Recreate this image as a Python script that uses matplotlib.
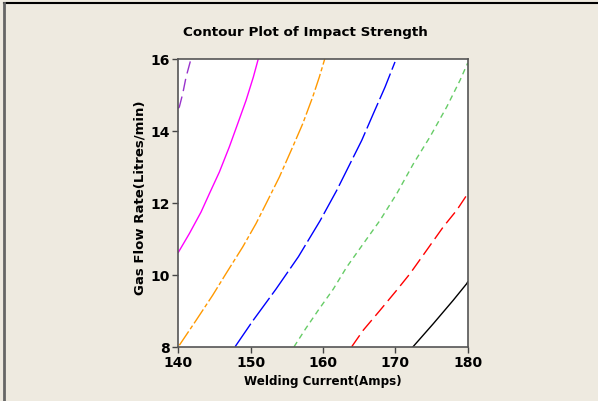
import matplotlib.pyplot as plt
from matplotlib.lines import Line2D

# contour lines: (welding current, gas flow rate)
purple_x = [140.0, 140.14, 140.61, 141.07, 141.76]
purple_y = [14.62, 14.66, 15.03, 15.49, 16.0]

magenta_x = [140.0, 141.52, 143.14, 144.29, 145.67, 147.05, 148.2, 149.36, 150.37, 151.06]
magenta_y = [10.62, 11.14, 11.74, 12.25, 12.85, 13.55, 14.19, 14.84, 15.49, 16.0]

orange_x = [140.14, 142.45, 144.75, 146.59, 148.9, 150.74, 152.12, 153.96,
            155.81, 157.19, 158.58, 159.49, 160.25]
orange_y = [8.04, 8.73, 9.43, 10.03, 10.77, 11.42, 11.97, 12.71,
            13.55, 14.19, 14.94, 15.49, 16.0]

blue_x = [147.85, 150.3, 153.5, 156.6, 159.6, 161.89, 163.73,
          165.35, 166.95, 168.57, 169.95]
blue_y = [8.0, 8.72, 9.6, 10.5, 11.5, 12.34, 13.08,
          13.73, 14.47, 15.21, 15.91]

green_x = [156.0, 157.6, 159.3, 161.42, 163.27, 165.57, 167.88, 170.19,
           172.49, 174.79, 177.1, 178.94, 180.0]
green_y = [8.0, 8.5, 9.0, 9.6, 10.21, 10.86, 11.51, 12.25,
           13.08, 13.83, 14.66, 15.4, 15.88]

red_x = [163.97, 165.57, 167.88, 170.19, 172.03, 174.33, 176.63, 178.48, 180.0]
red_y = [8.0, 8.46, 9.01, 9.57, 10.03, 10.68, 11.33, 11.79, 12.25]

black_x = [172.45, 175.25, 178.0, 179.86, 180.0]
black_y = [8.0, 8.64, 9.29, 9.75, 9.8]

x_ticks = [140, 150, 160, 170, 180]
y_ticks = [8, 10, 12, 14, 16]

bg = "#EEEAE0"
fig = plt.figure(figsize=(5.98, 4.02), dpi=100, facecolor=bg)
ax = fig.add_axes([0.2982, 0.1351, 0.4839, 0.7164])
ax.set_facecolor("white")

ax.plot(purple_x, purple_y, color="#9933CC", lw=1, ls=(0, (9, 4)))
ax.plot(magenta_x, magenta_y, color="#FF00FF", lw=1, ls="-")
ax.plot(orange_x, orange_y, color="#FF9900", lw=1, ls=(0, (12, 2, 3, 2)))
ax.plot(blue_x, blue_y, color="#0000FF", lw=1, ls=(0, (20, 3)))
ax.plot(green_x, green_y, color="#66CC66", lw=1, ls=(0, (4, 3)))
ax.plot(red_x, red_y, color="#FF0000", lw=1, ls=(0, (10, 4)))
ax.plot(black_x, black_y, color="black", lw=1, ls="-")

ax.set_xlim(140, 180)
ax.set_ylim(8, 16)
ax.set_xticks(x_ticks)
ax.set_yticks(y_ticks)
ax.tick_params(direction="out", length=4, width=1, color="#444444", labelsize=10, pad=2)
for lab in ax.get_xticklabels() + ax.get_yticklabels():
    lab.set_fontweight("bold")
for sp in ax.spines.values():
    sp.set_color("#555555")
    sp.set_linewidth(1.2)

fig.text(0.51, 0.92, "Contour Plot of Impact Strength", ha="center", va="center",
         fontsize=9.7, fontweight="bold")
fig.text(0.539, 0.052, "Welding Current(Amps)", ha="center", va="center",
         fontsize=8.6, fontweight="bold")
fig.text(0.234, 0.509, "Gas Flow Rate(Litres/min)", ha="center", va="center",
         rotation=90, fontsize=9.5, fontweight="bold")

# frame edges of the original graph window
fig.add_artist(Line2D([0.007, 1.0], [0.99, 0.99], color="black", lw=1.5))
fig.add_artist(Line2D([0.007, 0.007], [0.0, 0.99], color="#666666", lw=2))

fig.savefig("out.png", dpi=100, facecolor=bg)
